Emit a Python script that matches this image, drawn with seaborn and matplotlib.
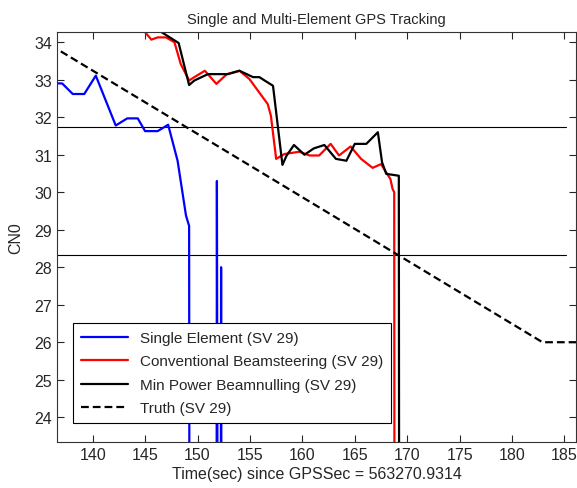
import seaborn as sns
import matplotlib.pyplot as plt
import pandas as pd

# time (s) and CN0 values
single_t = [136.0, 137.1, 138.1, 139.2, 140.3, 142.2, 143.3, 144.3, 145.0, 146.2, 147.2,
            148.1, 148.9, 149.2, 149.25, 151.8, 151.85, 151.95, 152.2, 152.25, 152.3]
single_v = [32.91, 32.9, 32.62, 32.62, 33.11, 31.78, 31.97, 31.97, 31.63, 31.63, 31.8,
            30.84, 29.38, 29.1, 15.0, 15.0, 30.3, 15.0, 15.0, 28.0, 15.0]

conv_t = [144.3, 145.6, 146.2, 147.0, 147.8, 148.4, 149.2, 149.7, 150.7, 151.8, 152.8,
          154.0, 154.95, 156.7, 157.0, 157.5, 158.3, 159.7, 160.7, 161.6, 162.7, 163.5,
          164.6, 165.6, 166.7, 167.5, 168.4, 168.6, 168.76, 168.8]
conv_v = [34.5, 34.07, 34.13, 34.13, 34.0, 33.42, 32.98, 33.07, 33.24, 32.89, 33.15,
          33.24, 33.02, 32.35, 32.04, 30.89, 31.02, 31.08, 30.98, 30.98, 31.29, 30.98,
          31.22, 30.89, 30.65, 30.75, 30.35, 30.09, 30.0, 15.0]

null_t = [145.5, 148.2, 149.2, 149.7, 151.0, 152.9, 154.0, 155.3, 155.9, 156.4, 157.2,
          158.1, 158.5, 159.2, 160.2, 161.1, 162.1, 163.2, 164.2, 165.0, 166.1, 167.2,
          167.6, 168.0, 169.2, 169.25]
null_v = [34.46, 33.98, 32.86, 32.98, 33.15, 33.15, 33.24, 33.07, 33.07, 32.98, 32.84,
          30.73, 30.98, 31.26, 31.0, 31.17, 31.26, 30.89, 30.84, 31.29, 31.29, 31.6,
          30.8, 30.49, 30.44, 15.0]

truth_t = [136.0, 182.9, 187.0]
truth_v = [33.92, 26.0, 26.0]

thresholds = [31.75, 28.32]

sns.set_style("ticks")
plt.rcParams['font.family'] = ['Liberation Sans', 'DejaVu Sans']

fig = plt.figure(figsize=(5.77, 4.89), dpi=100)
ax = fig.add_axes([0.0988, 0.0934, 0.8995, 0.8396])

for y in thresholds:
    ax.plot([136.0, 185.1], [y, y], color='black', lw=0.8, zorder=1)

sns.lineplot(x=single_t, y=single_v, ax=ax, sort=False, estimator=None, color='#0000ff',
             lw=1.6, label='Single Element (SV 29)')
sns.lineplot(x=conv_t, y=conv_v, ax=ax, sort=False, estimator=None, color='#ff0000',
             lw=1.6, label='Conventional Beamsteering (SV 29)')
sns.lineplot(x=null_t, y=null_v, ax=ax, sort=False, estimator=None, color='black',
             lw=1.6, label='Min Power Beamnulling (SV 29)')
sns.lineplot(x=truth_t, y=truth_v, ax=ax, sort=False, estimator=None, color='black',
             lw=1.6, linestyle=(0, (3.5, 1.8)), label='Truth (SV 29)')

ax.set_xlim(136.6, 186.1)
ax.set_ylim(23.33, 34.28)
ax.set_xticks(range(140, 186, 5))
ax.set_yticks(range(24, 35))
ax.tick_params(direction='in', top=True, right=True, length=5, labelsize=11.5, width=0.8)
for s in ax.spines.values():
    s.set_linewidth(0.8)
    s.set_color('#333333')

ax.set_title('Single and Multi-Element GPS Tracking', fontsize=10.5, pad=6)
ax.set_xlabel('Time(sec) since GPSSec = 563270.9314', fontsize=11.5, labelpad=3)
ax.set_ylabel('CN0', fontsize=11.5, labelpad=8)

leg = ax.legend(loc='lower left', bbox_to_anchor=(0.031, 0.047), borderaxespad=0,
                fontsize=11, fancybox=False, framealpha=1, edgecolor='black',
                handlelength=3.1, labelspacing=0.62, borderpad=0.5)
leg.get_frame().set_linewidth(0.8)

fig.savefig('out.png', dpi=100)
